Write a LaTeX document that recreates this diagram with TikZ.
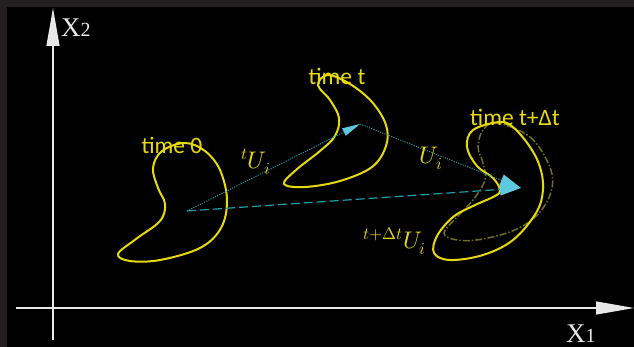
\documentclass[tikz,border=0pt]{standalone}
\usepackage{fontspec}
\usepackage{unicode-math}
\setmainfont{Liberation Serif}
\setmathfont{Latin Modern Math}
\newfontfamily\labelsans{Carlito}
\usetikzlibrary{arrows.meta}

\definecolor{framegray}{RGB}{35,31,32}
\definecolor{curveyellow}{RGB}{232,218,10}
\definecolor{ghostyellow}{RGB}{115,110,30}
\definecolor{vecteal}{RGB}{30,160,170}
\definecolor{tipcyan}{RGB}{95,200,225}
\definecolor{axiswhite}{RGB}{232,232,232}

\tikzset{
  axis/.style={draw=axiswhite, line width=1.3pt,
    -{Triangle[length=38pt,width=13pt,fill=axiswhite,color=axiswhite]}},
  axislabel/.style={text=axiswhite, inner sep=0pt,
    font=\fontsize{27}{27}\selectfont},
  body/.style={draw=curveyellow, line width=2pt},
  ghost/.style={draw=ghostyellow, line width=1.5pt,
    dash pattern=on 7pt off 2pt on 1.5pt off 2pt},
  timelabel/.style={text=curveyellow, inner sep=0pt,
    font=\labelsans\fontsize{23.5}{24}\selectfont},
  veclabel/.style={text=curveyellow, inner sep=0pt,
    font=\fontsize{24}{24}\selectfont},
  vecdot/.style={draw=vecteal, line width=0.9pt,
    dash pattern=on 1.2pt off 1.2pt},
  vecdash/.style={draw=vecteal, line width=1.2pt,
    dash pattern=on 9pt off 4pt},
  smalltip/.style={-{Triangle[length=18pt,width=8pt,fill=tipcyan,color=tipcyan]}},
  bigtip/.style={-{Triangle[length=21pt,width=12pt,fill=tipcyan,color=tipcyan]}},
}

\begin{document}
\begin{tikzpicture}[x=1pt,y=-1pt]
  % frame and black field
  \fill[framegray] (0,0) rectangle (634,347);
  \fill[black] (7,7) rectangle (634,347);
  \useasboundingbox (0,0) rectangle (634,347);

  % coordinate axes
  \coordinate (x2start) at (53,340);
  \coordinate (x2end) at (53,8);
  \coordinate (x1start) at (16,308);
  \coordinate (x1end) at (634,308);
  \draw[axis] (x2start) -- (x2end);
  \draw[axis] (x1start) -- (x1end);
  \node[axislabel, anchor=base west] (x2lab) at (61,37)
    {X{\fontsize{20}{20}\selectfont 2}};
  \node[axislabel, anchor=base west] (x1lab) at (566,342)
    {X{\fontsize{20}{20}\selectfont 1}};

  % body at time 0
  \draw[body] plot[smooth cycle, tension=0.6] coordinates {
    (185,143) (162,151) (153,168) (158,188) (165,204) (160,221)
    (136,239) (118,254) (130,261) (160,260) (200,248) (221,228)
    (227,200) (220,170) (205,151)};

  % body at time t
  \draw[body] plot[smooth cycle, tension=0.6] coordinates {
    (328,75) (350,84) (372,102) (386,125) (386,146) (372,167)
    (340,181) (305,187) (284,184) (296,170) (320,151) (335,136)
    (339,118) (330,100) (318,85)};

  % previous outline near time t+dt
  \draw[ghost] plot[smooth cycle, tension=0.6] coordinates {
    (497,123) (530,137) (549,165) (552,188) (540,212) (517,229)
    (483,239) (457,240) (444,233) (457,217) (473,200) (485,180)
    (483,163) (478,147) (483,130)};

  % body at time t+dt
  \draw[body] plot[smooth cycle, tension=0.6] coordinates {
    (500,122) (473,130) (467,147) (477,166) (493,178) (500,190)
    (495,196) (473,206) (453,217) (437,236) (434,253) (450,260)
    (483,255) (513,240) (536,213) (543,190) (540,167) (530,147)
    (514,128)};

  % material point positions and displacement vectors
  \coordinate (O) at (187,211);
  \coordinate (P) at (360,124);
  \coordinate (Q) at (521,188);
  \draw[vecdot, smalltip] (O) -- (P);
  \draw[vecdash, bigtip] (O) -- (Q);
  \draw[vecdot, bigtip] (P) -- (Q);

  % labels
  \node[timelabel] (lt0) at (172,145) {time 0};
  \node[timelabel] (ltt) at (337,76) {time t};
  \node[timelabel] (lttd) at (515,117) {time t+Δt};
  \node[veclabel] (u1) at (256,162) {$^{t}U_{i}$};
  \node[veclabel] (u2) at (431,158) {$U_{i}$};
  \node[veclabel] (u3) at (395,241) {$^{t+\Delta t}U_{i}$};
\end{tikzpicture}
\end{document}
